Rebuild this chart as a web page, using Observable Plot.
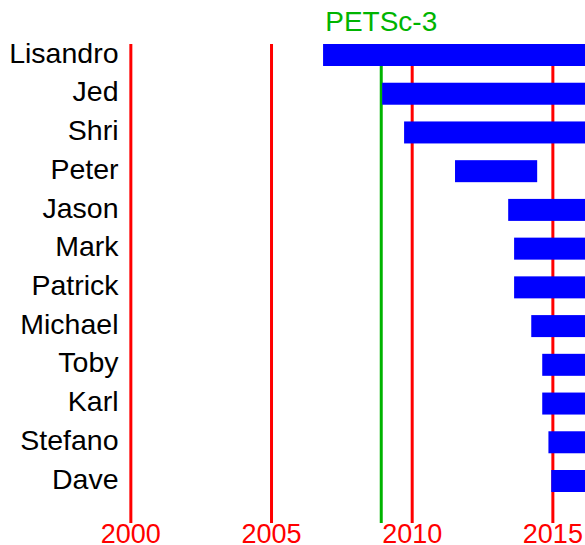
<!DOCTYPE html>
<html>
<head>
<meta charset="utf-8">
<script src="https://cdn.jsdelivr.net/npm/d3@7"></script>
<script src="https://cdn.jsdelivr.net/npm/@observablehq/plot@0.6"></script>
<style>
  html, body { margin: 0; padding: 0; background: #fff; }
  #chart svg { display: block; }
</style>
</head>
<body>
<div id="chart"></div>
<script>
const names = ["Lisandro", "Jed", "Shri", "Peter", "Jason", "Mark", "Patrick", "Michael", "Toby", "Karl", "Stefano", "Dave"];
const starts = [2006.85, 2008.95, 2009.73, 2011.54, 2013.43, 2013.64, 2013.64, 2014.25, 2014.64, 2014.64, 2014.86, 2014.96];
const ends = [2017, 2017, 2017, 2014.46, 2017, 2017, 2017, 2017, 2017, 2017, 2017, 2017];
const yearTicks = [2000, 2005, 2010, 2015];
const releaseYears = [2008.9];
const releaseLabels = ["PETSc-3"];

const bars = names.map((n, i) => ({name: n, start: starts[i], end: ends[i]}));
const releases = releaseYears.map((y, i) => ({year: y, label: releaseLabels[i]}));

const chart = Plot.plot({
  width: 585,
  height: 545,
  marginLeft: 125,
  marginRight: 0,
  marginTop: 44,
  marginBottom: 22,
  style: {fontFamily: "'Liberation Sans', Arial, sans-serif", background: "#fff"},
  x: {domain: [1999.81, 2016.16]},
  y: {domain: names, range: [44, 492], paddingInner: 0.432, paddingOuter: 0, round: false},
  marks: [
    Plot.ruleX(yearTicks, {x: d => d, stroke: "#ff0000", strokeWidth: 3}),
    Plot.ruleX(releases, {x: "year", stroke: "#00b400", strokeWidth: 3}),
    Plot.barX(bars, {x1: "start", x2: "end", y: "name", fill: "#0000ff", clip: true}),
    Plot.text(releases, {x: "year", text: "label", frameAnchor: "top", lineAnchor: "bottom", dy: -14, fill: "#00b400", fontSize: 28}),
    Plot.axisY({tickSize: 0, tickPadding: 7, fontSize: 28.5, fill: "#000", dy: -2, label: null}),
    Plot.axisX(yearTicks, {tickSize: 0, tickPadding: 0, fontSize: 27, fill: "#ff0000", tickFormat: "d", label: null})
  ]
});
document.getElementById("chart").appendChild(chart);
</script>
</body>
</html>
